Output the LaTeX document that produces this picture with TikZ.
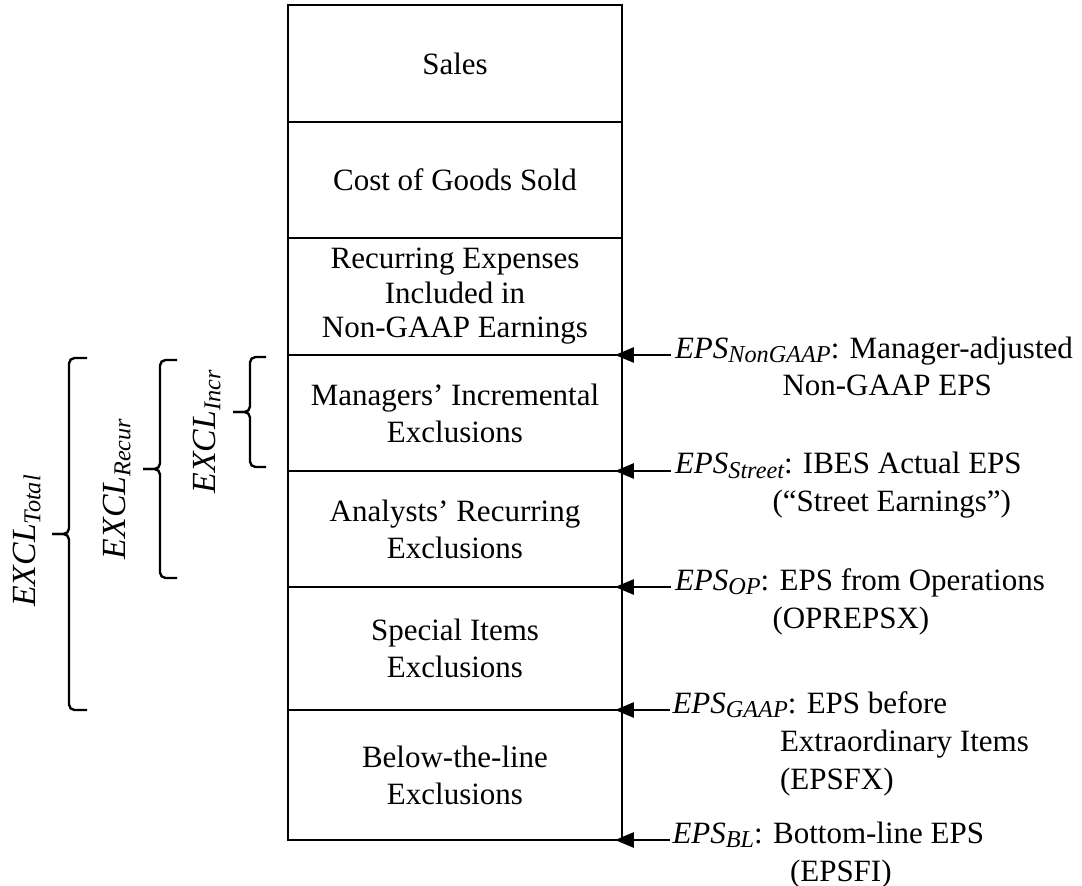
\documentclass[tikz,border=0pt]{standalone}
\usepackage{fontspec}
\setmainfont{Liberation Serif}
\usetikzlibrary{positioning,arrows.meta}
\newcommand{\subeps}[1]{\raisebox{-0.3ex}{\fontsize{9.7}{10}\selectfont\itshape #1}}
\newcommand{\subexcl}[1]{\raisebox{-0.3ex}{\fontsize{9.7}{10}\selectfont\itshape #1}}
\tikzset{
    row/.style = {draw, line width=1.1pt, minimum width=334*0.4pt, outer sep=0pt, inner sep=0pt, align=center, font=\fontsize{12.4}{14.8}\selectfont},
    epslabel/.style = {anchor=base west, inner sep=0pt, font=\fontsize{12.4}{15.2}\selectfont},
    epsarrow/.style = {-{Triangle[length=7.5pt,width=6pt]}, line width=0.9pt, shorten >=-2.8pt},
    bracepen/.style = {line width=0.95pt, rounded corners=2.2pt},
    excllabel/.style = {rotate=90, inner sep=0pt, font=\fontsize{13.5}{15}\selectfont\itshape}
}

\begin{document}
\begin{tikzpicture}[x=0.4pt, y=-0.4pt]
\useasboundingbox (0,0) rectangle (1082,886);
\node[row, minimum height=117*0.4pt] (sales) at (455,63.5) {Sales};
\node[row, minimum height=116*0.4pt, below=0pt of sales] (cogs) {Cost of Goods Sold};
\node[row, minimum height=117*0.4pt, below=0pt of cogs, font=\fontsize{12.4}{13.8}\selectfont] (recur) {Recurring Expenses\\Included in\\Non-GAAP Earnings};
\node[row, minimum height=116*0.4pt, below=0pt of recur] (mgr) {Managers’ Incremental\\Exclusions};
\node[row, minimum height=116*0.4pt, below=0pt of mgr] (analyst) {Analysts’ Recurring\\Exclusions};
\node[row, minimum height=123*0.4pt, below=0pt of analyst] (special) {Special Items\\Exclusions};
\node[row, minimum height=130*0.4pt, below=0pt of special] (btl) {Below-the-line\\Exclusions};

\node[epslabel] (nongaap) at ([xshift=21pt, yshift=-1.2pt]mgr.north east) {\begin{tabular}[t]{@{}l@{}}\textit{EPS}\subeps{NonGAAP}: Manager-adjusted\\\hspace{43pt}Non-GAAP EPS\end{tabular}};
\node[epslabel] (street) at ([xshift=21pt, yshift=-1.2pt]mgr.south east) {\begin{tabular}[t]{@{}l@{}}\textit{EPS}\subeps{Street}: IBES Actual EPS\\\hspace{39pt}(“Street Earnings”)\end{tabular}};
\node[epslabel] (oper) at ([xshift=21pt, yshift=-1.2pt]analyst.south east) {\begin{tabular}[t]{@{}l@{}}\textit{EPS}\subeps{OP}: EPS from Operations\\\hspace{39pt}(OPREPSX)\end{tabular}};
\node[epslabel] (gaap) at ([xshift=20pt, yshift=-1.2pt]special.south east) {\begin{tabular}[t]{@{}l@{}}\textit{EPS}\subeps{GAAP}: EPS before\\\hspace{43pt}Extraordinary Items\\\hspace{43pt}(EPSFX)\end{tabular}};
\node[epslabel] (bottom) at ([xshift=20pt, yshift=-1.2pt]btl.south east) {\begin{tabular}[t]{@{}l@{}}\textit{EPS}\subeps{BL}: Bottom-line EPS\\\hspace{47pt}(EPSFI)\end{tabular}};

\draw[epsarrow] ([xshift=-1.5pt]nongaap.west |- mgr.north east) -- (mgr.north east);
\draw[epsarrow] ([xshift=-1.5pt]street.west |- mgr.south east) -- (mgr.south east);
\draw[epsarrow] ([xshift=-1.5pt]oper.west |- analyst.south east) -- (analyst.south east);
\draw[epsarrow] ([xshift=-1pt]gaap.west |- special.south east) -- (special.south east);
\draw[epsarrow] ([xshift=-1pt]bottom.west |- btl.south east) -- (btl.south east);

\draw[bracepen] (87,358) -- (69,358) -- (69,534) -- (52,534);
\draw[bracepen] (87,710) -- (69,710) -- (69,534) -- (52,534);
\draw[bracepen] (177,360) -- (160,360) -- (160,469) -- (143,469);
\draw[bracepen] (177,578) -- (160,578) -- (160,469) -- (143,469);
\draw[bracepen] (266,357) -- (250,357) -- (250,412) -- (233,412);
\draw[bracepen] (266,467) -- (250,467) -- (250,412) -- (233,412);
\node[excllabel] (excltotal) at (27,541) {EXCL\subexcl{Total}};
\node[excllabel] (exclrecur) at (117,489) {EXCL\subexcl{Recur}};
\node[excllabel] (exclincr) at (207,432) {EXCL\subexcl{Incr}};
\end{tikzpicture}
\end{document}
